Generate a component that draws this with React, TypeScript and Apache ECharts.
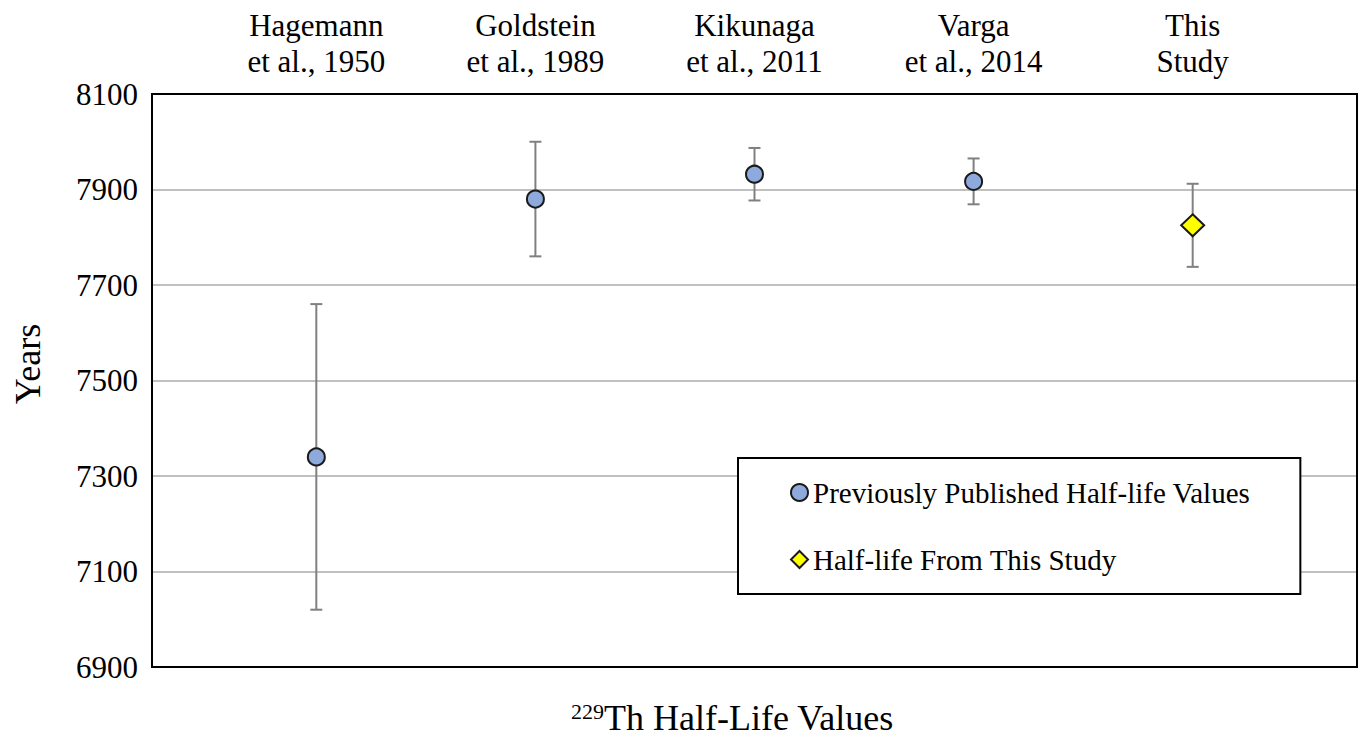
import React, { useEffect, useRef } from "react";
import * as echarts from "echarts";

const categories = [
  "Hagemann\net al., 1950",
  "Goldstein\net al., 1989",
  "Kikunaga\net al., 2011",
  "Varga\net al., 2014",
  "This\nStudy",
];
const categoryPositions = [1, 2, 3, 4, 5];

const previousPositions = [1, 2, 3, 4];
const previousValues = [7340, 7880, 7932, 7917];
const previousErrors = [320, 120, 55, 48];

const studyPositions = [5];
const studyValues = [7825];
const studyErrors = [87];

const yMin = 6900;
const yMax = 8100;
const yStep = 200;

const SERIF = "Liberation Serif";

export default function App() {
  const ref = useRef<HTMLDivElement>(null);

  useEffect(() => {
    if (!ref.current) return;
    const chart = echarts.init(ref.current, null, { renderer: "svg" });

    const prevPoints = previousPositions.map((x, i) => [x, previousValues[i]]);
    const studyPoints = studyPositions.map((x, i) => [x, studyValues[i]]);
    const errorData = [
      ...previousPositions.map((x, i) => [
        x,
        previousValues[i] - previousErrors[i],
        previousValues[i] + previousErrors[i],
      ]),
      ...studyPositions.map((x, i) => [
        x,
        studyValues[i] - studyErrors[i],
        studyValues[i] + studyErrors[i],
      ]),
    ];

    chart.setOption({
      animation: false,
      backgroundColor: "#ffffff",
      textStyle: { fontFamily: SERIF, color: "#000" },
      grid: {
        left: 152,
        right: 6,
        top: 94,
        bottom: 70,
        show: true,
        borderColor: "#000",
        borderWidth: 2,
        backgroundColor: "transparent",
        z: 5,
      },
      xAxis: {
        type: "value",
        position: "top",
        min: 0.25,
        max: 5.75,
        axisLine: { show: false },
        axisTick: { show: false },
        splitLine: { show: false },
        axisLabel: {
          customValues: categoryPositions,
          formatter: (v: number) => {
            const idx = categoryPositions.indexOf(Math.round(v));
            return idx >= 0 ? categories[idx] : "";
          },
          fontSize: 31,
          lineHeight: 36,
          color: "#000",
          fontFamily: SERIF,
          margin: 15,
        },
      },
      yAxis: {
        type: "value",
        min: yMin,
        max: yMax,
        interval: yStep,
        axisLine: { show: false },
        axisTick: { show: false },
        splitLine: {
          show: true,
          showMinLine: false,
          showMaxLine: false,
          lineStyle: { color: "#c0c0c0", width: 2 },
        },
        axisLabel: {
          fontSize: 31,
          color: "#000",
          fontFamily: SERIF,
          margin: 14,
          formatter: (v: number) => String(v),
        },
      },
      legend: {
        orient: "vertical",
        left: 738,
        top: 458,
        padding: [20, 50, 20, 52],
        itemGap: 38,
        itemWidth: 17,
        itemHeight: 17,
        borderColor: "#000",
        borderWidth: 2,
        backgroundColor: "#fff",
        textStyle: { fontSize: 29, fontFamily: SERIF, color: "#000" },
        data: [
          { name: "Previously Published Half-life Values", icon: "circle" },
          { name: "Half-life From This Study", icon: "diamond" },
        ],
      },
      graphic: [
        {
          type: "text",
          x: 28,
          y: 364,
          rotation: Math.PI / 2,
          style: {
            text: "Years",
            fontSize: 36,
            fontFamily: SERIF,
            fill: "#000",
            align: "center",
            verticalAlign: "middle",
          },
        },
        {
          type: "text",
          x: 604,
          y: 700,
          style: {
            text: "229",
            fontSize: 22,
            fontFamily: SERIF,
            fill: "#000",
            align: "right",
            verticalAlign: "top",
          },
        },
        {
          type: "text",
          x: 604,
          y: 718,
          style: {
            text: "Th Half-Life Values",
            fontSize: 36,
            fontFamily: SERIF,
            fill: "#000",
            align: "left",
            verticalAlign: "middle",
          },
        },
      ],
      series: [
        {
          type: "custom",
          name: "errors",
          silent: true,
          z: 2,
          encode: { x: 0, y: [1, 2] },
          data: errorData,
          renderItem: (params: any, api: any) => {
            const x = api.value(0);
            const lo = api.coord([x, api.value(1)]);
            const hi = api.coord([x, api.value(2)]);
            const hw = 6;
            const style = { stroke: "#808080", lineWidth: 2 };
            return {
              type: "group",
              children: [
                { type: "line", shape: { x1: lo[0], y1: lo[1], x2: hi[0], y2: hi[1] }, style },
                { type: "line", shape: { x1: lo[0] - hw, y1: lo[1], x2: lo[0] + hw, y2: lo[1] }, style },
                { type: "line", shape: { x1: hi[0] - hw, y1: hi[1], x2: hi[0] + hw, y2: hi[1] }, style },
              ],
            };
          },
        },
        {
          type: "scatter",
          name: "Previously Published Half-life Values",
          symbol: "circle",
          symbolSize: 17,
          z: 3,
          itemStyle: { color: "#8EA9DB", borderColor: "#1a1a1a", borderWidth: 2, opacity: 1 },
          data: prevPoints,
        },
        {
          type: "scatter",
          name: "Half-life From This Study",
          symbol: "diamond",
          symbolSize: [23, 22],
          z: 3,
          itemStyle: { color: "#FFFF00", borderColor: "#1a1a1a", borderWidth: 2, opacity: 1 },
          data: studyPoints,
        },
      ],
    });

    return () => chart.dispose();
  }, []);

  return (
    <div
      ref={ref}
      style={{ position: "fixed", left: 0, top: 0, width: 1363, height: 737, background: "#fff" }}
    />
  );
}
